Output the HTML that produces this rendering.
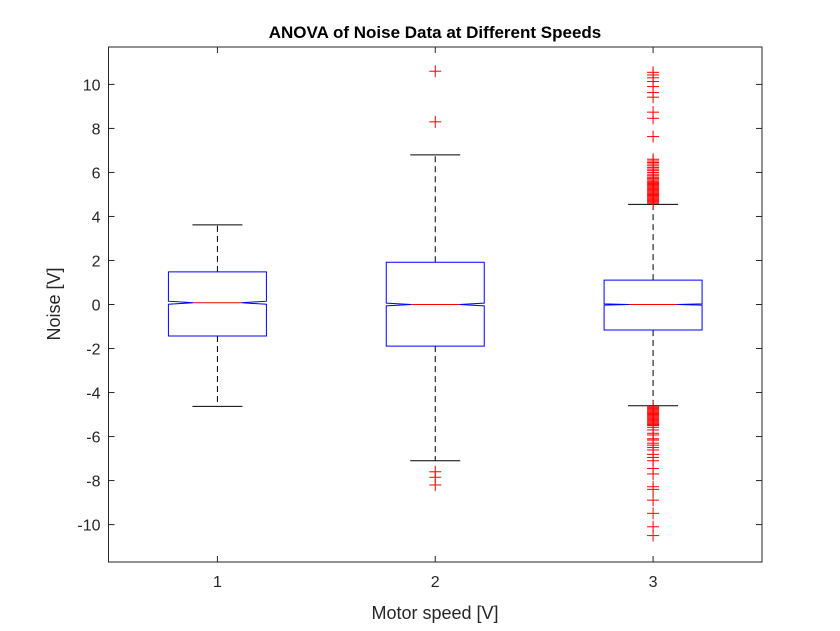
<!DOCTYPE html>
<html><head><meta charset="utf-8"><style>
body{margin:0;background:#fff}
svg{display:block;font-family:"Liberation Sans",Arial,sans-serif}
</style></head><body>
<svg id="chart" width="840" height="631" viewBox="0 0 840 631" xmlns="http://www.w3.org/2000/svg">
<rect x="0" y="0" width="840" height="631" fill="#fff"/>
<g id="plot"></g>
</svg>
<script>
const categories = ['1','2','3'];
const q1 = [-1.43, -1.89, -1.16];
const q3 = [1.48, 1.92, 1.11];
const medians = [0.08, 0.0, 0.0];
const notchHalf = [0.07, 0.06, 0.03];
const whiskerLow = [-4.63, -7.1, -4.6];
const whiskerHigh = [3.62, 6.8, 4.55];
const outliers1 = [];
const outliers2 = [10.6, 8.3, -7.6, -7.85, -8.2];
const outliers3 = [10.55,10.43,10.3,10.13,9.9,9.63,9.42,8.74,8.46,7.63,
 6.6,6.52,6.45,6.38,6.3,6.22,6.15,6.08,6.0,5.92,5.85,5.78,5.72,5.66,5.6,5.55,5.5,5.45,5.4,5.35,5.3,5.25,5.2,5.15,5.1,5.05,5.0,4.95,4.9,4.85,4.8,4.75,4.7,4.65,4.6,
 -4.65,-4.7,-4.75,-4.8,-4.85,-4.9,-4.95,-5.0,-5.05,-5.1,-5.15,-5.2,-5.25,-5.3,-5.35,-5.4,-5.45,-5.5,-5.58,-5.7,-5.85,-5.93,-6.1,-6.16,-6.3,-6.39,-6.5,-6.61,-6.81,-6.95,-7.1,-7.45,-7.7,-8.28,-8.4,-8.89,-9.49,-10.1,-10.5];
const yTicks = [-10,-8,-6,-4,-2,0,2,4,6,8,10];
const outliers = [outliers1, outliers2, outliers3];

const L=108.5,R=762,T=47,B=562, yMin=-11.7, yMax=11.7;
const xS = c => L + (c - 0.5) * (R - L) / 3;
const yS = v => B - (v - yMin) * (B - T) / (yMax - yMin);
const NS='http://www.w3.org/2000/svg';
const g=document.getElementById('plot');
function mk(tag, attrs, name, parent){
  const e=document.createElementNS(NS,tag);
  for(const k in attrs) e.setAttribute(k,attrs[k]);
  
  
  (parent||g).appendChild(e); return e;
}
mk('rect',{x:L,y:T,width:R-L,height:B-T,fill:'none',stroke:'#262626','stroke-width':1},'axes-box');
yTicks.forEach(v=>{
  const y=yS(v);
  mk('line',{x1:L,y1:y,x2:L+6,y2:y,stroke:'#262626'},'y-tick');
  mk('line',{x1:R,y1:y,x2:R-6,y2:y,stroke:'#262626'},'y-tick-right');
  const t=mk('text',{x:L-8,y:y+6,'text-anchor':'end','font-size':16,fill:'#262626'},'y-tick-label');
  t.textContent=v;
});
const bw=49, nw=24, cw=25;
categories.forEach((c,i)=>{
  const x=xS(i+1);
  mk('line',{x1:x,y1:B,x2:x,y2:B-6,stroke:'#262626'},'x-tick');
  mk('line',{x1:x,y1:T,x2:x,y2:T+6,stroke:'#262626'},'x-tick-top');
  const t=mk('text',{x:x,y:B+25,'text-anchor':'middle','font-size':16,fill:'#262626'},'x-tick-label');
  t.textContent=c;
  mk('line',{x1:x,y1:yS(q3[i]),x2:x,y2:yS(whiskerHigh[i]),stroke:'#000','stroke-dasharray':'6,4'},'upper-whisker');
  mk('line',{x1:x,y1:yS(q1[i]),x2:x,y2:yS(whiskerLow[i]),stroke:'#000','stroke-dasharray':'6,4'},'lower-whisker');
  mk('line',{x1:x-cw,y1:yS(whiskerHigh[i]),x2:x+cw,y2:yS(whiskerHigh[i]),stroke:'#000'},'upper-whisker-cap');
  mk('line',{x1:x-cw,y1:yS(whiskerLow[i]),x2:x+cw,y2:yS(whiskerLow[i]),stroke:'#000'},'lower-whisker-cap');
  const m=medians[i], n=notchHalf[i];
  const pts=[[x-bw,yS(q3[i])],[x+bw,yS(q3[i])],[x+bw,yS(m+n)],[x+nw,yS(m)],[x+bw,yS(m-n)],[x+bw,yS(q1[i])],
    [x-bw,yS(q1[i])],[x-bw,yS(m-n)],[x-nw,yS(m)],[x-bw,yS(m+n)]];
  mk('polygon',{points:pts.map(p=>p.join(',')).join(' '),fill:'none',stroke:'#0000ff','stroke-width':1},'box-'+c);
  mk('line',{x1:x-nw,y1:yS(m),x2:x+nw,y2:yS(m),stroke:'#ff0000','stroke-width':1},'median-'+c);
  outliers[i].forEach(v=>{
    const y=yS(v);
    const gg=mk('g',{},'outlier');
    mk('line',{x1:x-6,y1:y,x2:x+6,y2:y,stroke:'#ff0000'},'outlier-h',gg);
    mk('line',{x1:x,y1:y-6,x2:x,y2:y+6,stroke:'#ff0000'},'outlier-v',gg);
  });
});
const tt=mk('text',{x:435,y:38,'text-anchor':'middle','font-size':17,'font-weight':'bold',fill:'#000'},'chart-title');
tt.textContent='ANOVA of Noise Data at Different Speeds';
const xl=mk('text',{x:435,y:619,'text-anchor':'middle','font-size':18,fill:'#262626'},'x-axis-title');
xl.textContent='Motor speed [V]';
const yl=mk('text',{x:0,y:0,'text-anchor':'middle','font-size':18,fill:'#262626',transform:'translate(60,304) rotate(-90)'},'y-axis-title');
yl.textContent='Noise [V]';
</script>
</body></html>
